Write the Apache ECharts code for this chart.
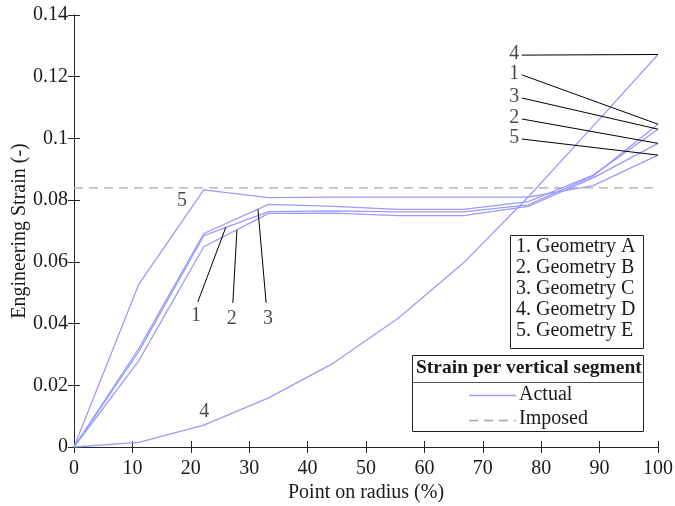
<!DOCTYPE html>
<html><head><meta charset="utf-8">
<script src="https://cdn.jsdelivr.net/npm/echarts@6/dist/echarts.min.js"></script>
<style>html,body{margin:0;padding:0;background:#fff}#c{width:675px;height:506px}</style>
</head><body><div id="c"></div>
<script>
var xPoints = [0, 11.11, 22.22, 33.33, 44.44, 55.56, 66.67, 77.78, 88.89, 100];
var geomA = [0, 0.031, 0.0685, 0.0763, 0.0765, 0.0762, 0.0762, 0.0785, 0.0878, 0.1046];
var geomB = [0, 0.028, 0.0649, 0.0757, 0.0758, 0.0750, 0.0750, 0.0780, 0.0872, 0.0984];
var geomC = [0, 0.032, 0.0692, 0.0786, 0.0780, 0.0770, 0.0770, 0.0795, 0.0881, 0.1030];
var geomD = [0, 0.0015, 0.0071, 0.0159, 0.0272, 0.0418, 0.0596, 0.081, 0.104, 0.1272];
var geomE = [0, 0.0528, 0.0833, 0.0808, 0.0810, 0.0810, 0.0810, 0.0810, 0.0847, 0.0946];
var imposedStrain = 0.084;
var legendNames = ['1. Geometry A','2. Geometry B','3. Geometry C','4. Geometry D','5. Geometry E'];
// annotation labels [x, y, text] and leader lines [[x0,y0],[x1,y1]] in data coords
var annoLabels = [
  [18.5,0.0797,'5'],[22.3,0.0115,'4'],[20.9,0.0425,'1'],[27.0,0.0415,'2'],[33.2,0.0415,'3'],
  [75.4,0.1275,'4'],[75.4,0.1208,'1'],[75.4,0.1135,'3'],[75.4,0.1067,'2'],[75.4,0.1002,'5']
];
var annoLines = [
  [[21.2,0.0470],[26.0,0.0712]],
  [[27.2,0.0467],[27.9,0.0703]],
  [[32.9,0.0467],[31.5,0.0770]],
  [[76.7,0.1270],[100,0.1272]],
  [[76.7,0.1206],[100,0.1046]],
  [[76.7,0.1131],[100,0.1030]],
  [[76.7,0.1063],[100,0.0984]],
  [[76.7,0.0998],[100,0.0946]]
];

var FONT = '"Liberation Serif", "DejaVu Serif", serif';
var LINE = '#9b9bfb';
var TXT = '#1a1a1a';
function zip(arr){ return xPoints.map(function(x,i){ return [x, arr[i]]; }); }
var series = [];
[geomA,geomB,geomC,geomD,geomE].forEach(function(g,i){
  series.push({type:'line', name:legendNames[i], data:zip(g), showSymbol:false, symbol:'none',
    lineStyle:{color:LINE, width:1.3}, z:3, silent:true});
});
series.push({type:'line', name:'Imposed', data:[[0,imposedStrain],[100,imposedStrain]], symbol:'none',
  lineStyle:{color:'#a8a8a8', width:1.3, type:[9,6]}, z:2, silent:true});
annoLines.forEach(function(l){
  series.push({type:'line', data:l, symbol:'none', lineStyle:{color:'#000', width:1}, z:4, silent:true});
});
series.push({type:'scatter', data:annoLabels, symbolSize:0, z:5, silent:true,
  label:{show:true, position:'inside', formatter:function(p){return p.data[2];},
    fontFamily:FONT, fontSize:20, color:TXT}});

var chart = echarts.init(document.getElementById('c'), null, {renderer:'canvas'});
var axCol = '#262626';
function fmtY(v){ return String(+v.toFixed(2)); }
chart.setOption({
  animation:false,
  grid:{left:74, right:17, top:15, bottom:59, containLabel:false, outerBoundsMode:'none'},
  xAxis:[
    {type:'value', min:0, max:100, interval:10, position:'bottom',
      axisLine:{show:true, lineStyle:{color:axCol, width:1}},
      axisTick:{inside:true, length:6, lineStyle:{color:axCol}},
      axisLabel:{fontFamily:FONT, fontSize:20, color:TXT, margin:12},
      splitLine:{show:false},
      name:'Point on radius (%)', nameLocation:'middle', nameGap:36, nameMoveOverlap:false,
      nameTextStyle:{fontFamily:FONT, fontSize:20, color:TXT}},
    {type:'value', min:0, max:100, interval:10, position:'top',
      axisLine:{show:true, lineStyle:{color:axCol, width:1}},
      axisTick:{inside:true, length:6, lineStyle:{color:axCol}},
      axisLabel:{show:false}, splitLine:{show:false}}
  ],
  yAxis:[
    {type:'value', min:0, max:0.14, interval:0.02, position:'left',
      axisLine:{show:true, lineStyle:{color:axCol, width:1}},
      axisTick:{inside:true, length:6, lineStyle:{color:axCol}},
      axisLabel:{fontFamily:FONT, fontSize:20, color:TXT, margin:6, formatter:fmtY},
      splitLine:{show:false},
      name:'Engineering Strain (-)', nameLocation:'middle', nameGap:44, nameMoveOverlap:false,
      nameTextStyle:{fontFamily:FONT, fontSize:20, color:TXT}},
    {type:'value', min:0, max:0.14, interval:0.02, position:'right',
      axisLine:{show:true, lineStyle:{color:axCol, width:1}},
      axisTick:{inside:true, length:6, lineStyle:{color:axCol}},
      axisLabel:{show:false}, splitLine:{show:false}}
  ],
  series:series,
  graphic:[
    {type:'rect', shape:{x:510.5, y:235.5, width:133, height:113}, style:{fill:'#fff', stroke:'#222', lineWidth:1}, z:10},
    {type:'text', left:516, top:236, z:11, style:{text:legendNames.join('\n'), font:'20px '+FONT, fill:TXT, lineHeight:21}},
    {type:'rect', shape:{x:412.5, y:355.5, width:231, height:76}, style:{fill:'#fff', stroke:'#222', lineWidth:1}, z:10},
    {type:'line', shape:{x1:412.5, y1:382.5, x2:643.5, y2:382.5}, style:{stroke:'#555', lineWidth:1}, z:11},
    {type:'text', left:416, top:358, z:11, style:{text:'Strain per vertical segment', font:'bold 19.5px '+FONT, fill:TXT}},
    {type:'line', shape:{x1:469, y1:395.5, x2:516, y2:395.5}, style:{stroke:LINE, lineWidth:1.3}, z:11},
    {type:'text', left:519, top:385, z:11, style:{text:'Actual', font:'20px '+FONT, fill:TXT}},
    {type:'line', shape:{x1:469, y1:420.5, x2:516, y2:420.5}, style:{stroke:'#a8a8a8', lineWidth:1.3, lineDash:[9,6]}, z:11},
    {type:'text', left:519, top:409, z:11, style:{text:'Imposed', font:'20px '+FONT, fill:TXT}}
  ]
});
</script></body></html>
